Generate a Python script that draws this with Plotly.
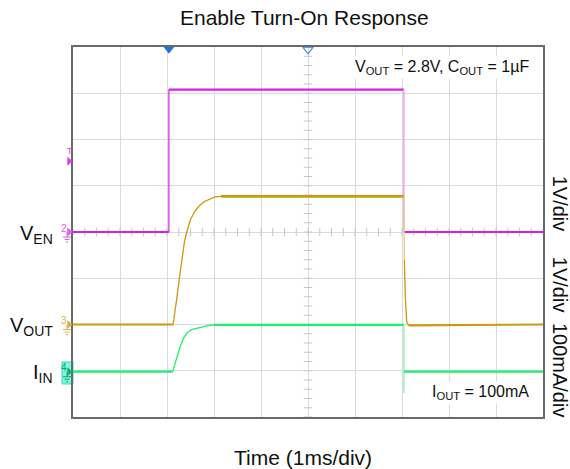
import plotly.graph_objects as go

# ---------------- data (divisions: x = time div (1 ms/div), y = vertical div) -------------
ven_t = [0, 2.04, 2.04, 7.04, 7.04, 10]
ven_v = [0, 0, 3.08, 3.08, 0, 0]

vout_t = [0, 2.13, 2.17, 2.22, 2.27, 2.32, 2.37, 2.42, 2.50, 2.60, 2.70, 2.80, 2.90, 3.02, 3.15,
          7.04, 7.05, 7.07, 7.10, 7.14, 10]
vout_v = [-2, -2, -1.75, -1.35, -0.95, -0.55, -0.22, 0.0, 0.27, 0.46, 0.58, 0.66, 0.71, 0.76, 0.77,
          0.77, -0.6, -1.39, -1.94, -2.02, -2]

iin_t = [0, 2.12, 2.20, 2.28, 2.35, 2.42, 2.52, 2.70, 2.85, 3.0, 7.04, 7.04, 7.04, 10]
iin_v = [-3.02, -3.02, -2.72, -2.48, -2.30, -2.19, -2.11, -2.06, -2.03, -2.01, -2.01, -3.48, -3.02, -3.02]

title_text = "Enable Turn-On Response"
xlabel_text = "Time (1ms/div)"
scale_labels = ["1V/div", "1V/div", "100mA/div"]
channel_labels = ["V<sub>EN</sub>", "V<sub>OUT</sub>", "I<sub>IN</sub>"]
channel_levels = [0, -2, -3.02]
trigger_level = 1.53
trigger_time = 2.04
note_top = "V<sub>OUT</sub> = 2.8V, C<sub>OUT</sub> = 1µF"
note_bottom = "I<sub>OUT</sub> = 100mA"

MAG = "#DD1BEF"
MAG_L = "#F0A6F4"
GOLD = "#CC9A10"
GOLD_L = "#E6CC85"
GRN = "#1CF06F"
GRN_L = "#9CF5C4"
FONT = "Liberation Sans, Arial, sans-serif"

fig = go.Figure()


def seg(t, v, i0, i1, color, width):
    fig.add_trace(go.Scatter(x=t[i0:i1 + 1], y=v[i0:i1 + 1], mode="lines",
                             line=dict(color=color, width=width),
                             hoverinfo="skip", showlegend=False))


# center-line minor ticks
tx = [i * 0.25 for i in range(41)]
fig.add_trace(go.Scatter(x=tx, y=[0] * len(tx), mode="markers",
                         marker=dict(symbol="line-ns", size=6, line=dict(color="#C8C8C8", width=1)),
                         hoverinfo="skip", showlegend=False))
ty = [-4 + i * 0.2 for i in range(41)]
fig.add_trace(go.Scatter(x=[5] * len(ty), y=ty, mode="markers",
                         marker=dict(symbol="line-ew", size=6, line=dict(color="#C8C8C8", width=1)),
                         hoverinfo="skip", showlegend=False))

# V_EN
seg(ven_t, ven_v, 0, 1, MAG, 2.2)
seg(ven_t, ven_v, 1, 2, MAG, 1.2)
seg(ven_t, ven_v, 2, 3, MAG, 2.2)
seg(ven_t, ven_v, 3, 4, MAG_L, 1.6)
seg(ven_t, ven_v, 4, 5, MAG, 2.2)

# V_OUT
seg(vout_t, vout_v, 0, 1, GOLD, 2.2)
seg(vout_t, vout_v, 1, 14, GOLD, 1.3)
seg(vout_t, vout_v, 14, 15, GOLD, 2.6)
seg(vout_t, vout_v, 15, 16, GOLD_L, 1.3)
seg(vout_t, vout_v, 16, 19, GOLD, 1.3)
seg(vout_t, vout_v, 19, 20, GOLD, 2.2)

# I_IN
seg(iin_t, iin_v, 0, 1, GRN, 2.2)
seg(iin_t, iin_v, 1, 9, GRN, 1.3)
seg(iin_t, iin_v, 9, 10, GRN, 2.2)
seg(iin_t, iin_v, 10, 11, GRN_L, 1.6)
seg(iin_t, iin_v, 12, 13, GRN, 2.2)

# top markers
fig.add_trace(go.Scatter(x=[trigger_time], y=[3.95], mode="markers", cliponaxis=False,
                         marker=dict(symbol="triangle-down", size=9, color="#1E6FE0"),
                         hoverinfo="skip", showlegend=False))
fig.add_trace(go.Scatter(x=[5], y=[3.95], mode="markers", cliponaxis=False,
                         marker=dict(symbol="triangle-down-open", size=9, color="#3C8CF0",
                                     line=dict(width=1.2)),
                         hoverinfo="skip", showlegend=False))

annotations = []
shapes = []


def px_x(px):
    return (px - 73) / 470.0


def px_y(py):
    return (417 - py) / 369.5


def arrow(py, col):
    # small right-pointing arrow head just left of the frame
    shapes.append(dict(type="path", xref="paper", yref="paper",
                       path="M {a},{b} L {c},{d} L {a},{e} Z".format(
                           a=px_x(67.5), b=px_y(py - 4), c=px_x(72.5), d=px_y(py), e=px_y(py + 4)),
                       fillcolor=col, line=dict(color=col, width=0.5)))


# ground symbols + channel numbers
for lvl, num, col in zip(channel_levels, ["2", "3", "4"], ["#E35BF0", "#D9B04A", "#12A070"]):
    py = 232.3 - lvl * 46.2
    if num == "4":
        shapes.append(dict(type="rect", xref="paper", yref="paper",
                           x0=px_x(62), x1=px_x(73), y0=px_y(384), y1=px_y(362),
                           fillcolor="#7FF5DC", line=dict(color="#40D8B8", width=1), layer="below"))
    annotations.append(dict(text=num, xref="paper", yref="paper", x=px_x(63.5), y=px_y(py - 4),
                            showarrow=False, font=dict(size=10, color=col, family=FONT),
                            xanchor="center", yanchor="middle"))
    gx = px_x(67)
    shapes.append(dict(type="line", xref="paper", yref="paper", x0=gx, x1=gx,
                       y0=px_y(py), y1=px_y(py + 5), line=dict(color=col, width=1)))
    for k, hw in enumerate([4, 2.5, 1]):
        shapes.append(dict(type="line", xref="paper", yref="paper", x0=px_x(67 - hw), x1=px_x(67 + hw),
                           y0=px_y(py + 5 + 2.5 * k), y1=px_y(py + 5 + 2.5 * k),
                           line=dict(color=col, width=1)))
    arrow(py, col if num != "4" else "#10B070")

# trigger 'T'
ty_px = 232.3 - trigger_level * 46.2
arrow(ty_px, "#E040E8")
annotations.append(dict(text="T", xref="paper", yref="paper", x=px_x(70), y=px_y(ty_px - 10),
                        showarrow=False, font=dict(size=9, color="#E040E8", family=FONT),
                        xanchor="center", yanchor="middle"))

# left channel labels
for lab, lvl in zip(channel_labels, channel_levels):
    annotations.append(dict(text=lab, xref="paper", yref="y", x=px_x(55), y=lvl, yshift=-2,
                            showarrow=False, font=dict(size=20, color="#111111", family=FONT),
                            xanchor="right", yanchor="middle"))

# right scale labels
for lab, py in zip(scale_labels, [204, 285, 370]):
    annotations.append(dict(text=lab, xref="paper", yref="paper", x=px_x(560), y=px_y(py),
                            textangle=90, showarrow=False,
                            font=dict(size=20, color="#111111", family=FONT),
                            xanchor="center", yanchor="middle"))

# title and x label
annotations.append(dict(text=title_text, xref="paper", yref="paper", x=px_x(304), y=px_y(18),
                        showarrow=False, font=dict(size=21, color="#111111", family=FONT),
                        xanchor="center", yanchor="middle"))
annotations.append(dict(text=xlabel_text, xref="paper", yref="paper", x=px_x(303), y=px_y(457),
                        showarrow=False, font=dict(size=21, color="#111111", family=FONT),
                        xanchor="center", yanchor="middle"))

# inner notes
annotations.append(dict(text=note_top, xref="paper", yref="paper", x=px_x(531), y=px_y(68),
                        showarrow=False, font=dict(size=16, color="#111111", family=FONT),
                        xanchor="right", yanchor="middle", bgcolor="white"))
annotations.append(dict(text=note_bottom, xref="paper", yref="paper", x=px_x(531), y=px_y(393),
                        showarrow=False, font=dict(size=16, color="#111111", family=FONT),
                        xanchor="right", yanchor="middle", bgcolor="white"))

axis_common = dict(showgrid=True, gridcolor="#DADADA", gridwidth=1, showticklabels=False,
                   ticks="", zeroline=False, showline=True, mirror=True,
                   linecolor="#6A6A6A", linewidth=1.5, fixedrange=True)

fig.update_layout(
    width=570, height=469,
    margin=dict(l=73, r=27, t=47, b=52),
    paper_bgcolor="white", plot_bgcolor="white",
    xaxis=dict(range=[0, 10], dtick=1, tick0=0, **axis_common),
    yaxis=dict(range=[-4, 4], dtick=1, tick0=-4, **axis_common),
    annotations=annotations,
    shapes=shapes,
    showlegend=False,
    font=dict(family=FONT),
)

fig.write_html("out.html")
